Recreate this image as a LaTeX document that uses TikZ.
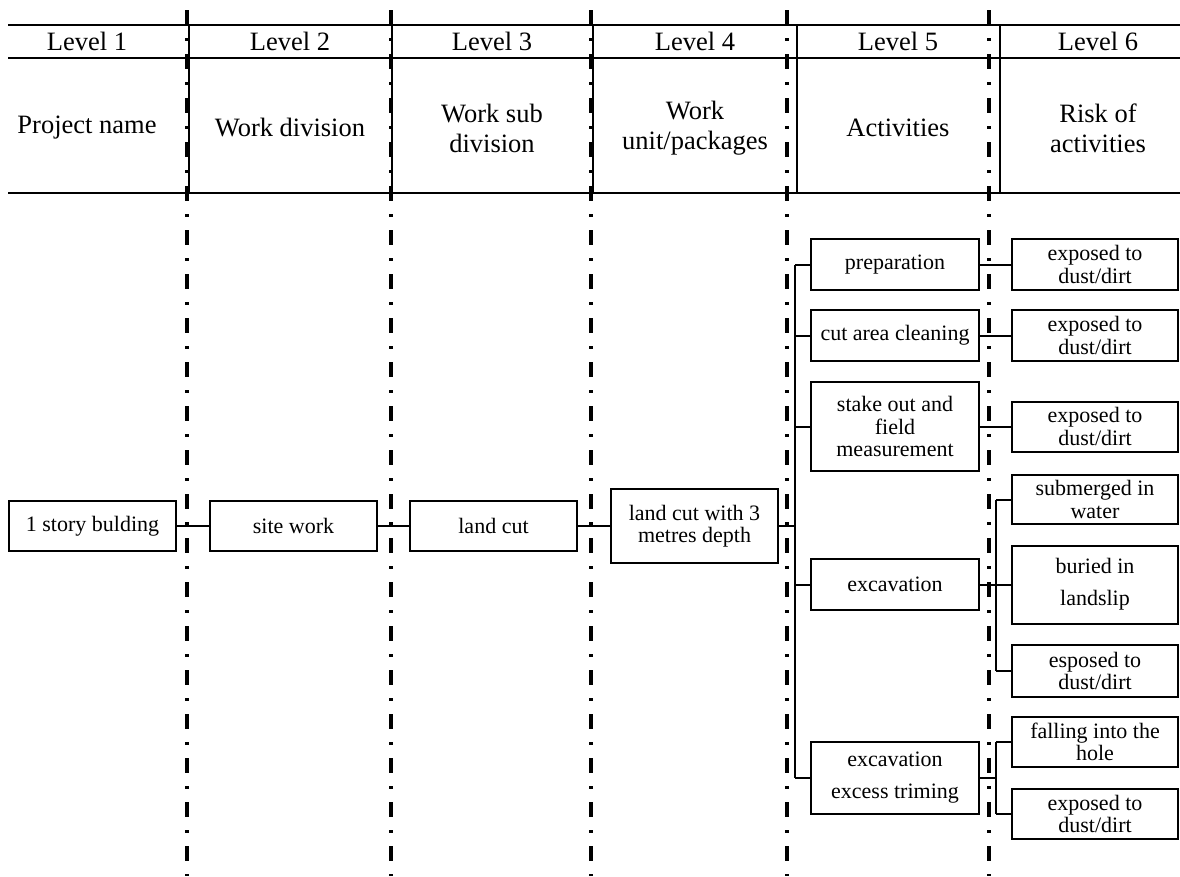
\documentclass[tikz,border=0pt]{standalone}
\usepackage{fontspec}
\setmainfont{Liberation Serif}
\begin{document}
\begin{tikzpicture}[x=1pt,y=-1pt,
  sepline/.style={line width=4pt, dash pattern=on 15pt off 13pt on 3pt off 13pt},
  hline/.style={line width=1.3pt},
  box/.style={draw, line width=2pt, inner sep=0pt, align=center, font=\fontsize{22}{22.5}\selectfont},
  widebox/.style={box, font=\fontsize{22}{32}\selectfont},
  conn/.style={line width=2pt},
  head/.style={font=\fontsize{26.5}{30}\selectfont, align=center, inner sep=0pt}]
\useasboundingbox (0,0) rectangle (1180,876);
% header table
\draw[hline] (8,25) -- (1180,25);
\draw[hline] (8,58) -- (1180,58);
\draw[hline] (8,193) -- (1180,193);
\foreach \x in {189,392,593,797,1000} \draw[hline] (\x,25) -- (\x,193);
\foreach \x in {187,391,591,787,989} \draw[sepline] (\x,10) -- (\x,876);
\node[head] (l1) at (87,41.5) {Level 1};
\node[head] (l2) at (290,41.5) {Level 2};
\node[head] (l3) at (492,41.5) {Level 3};
\node[head] (l4) at (695,41.5) {Level 4};
\node[head] (l5) at (898,41.5) {Level 5};
\node[head] (l6) at (1098,41.5) {Level 6};
\node[head] (h1) at (87,128) {Project name};
\node[head] (h2) at (290,128) {Work division};
\node[head] (h3) at (492,128) {Work sub\\division};
\node[head] (h4) at (695,128) {Work\\unit/packages};
\node[head] (h5) at (898,128) {Activities};
\node[head] (h6) at (1098,128) {Risk of\\activities};
% main row
\node[box, minimum width=167pt, minimum height=50pt] (b1) at (92.5,526) {1 story bulding};
\node[box, minimum width=167pt, minimum height=50pt] (b2) at (293.5,526) {site work};
\node[box, minimum width=167pt, minimum height=50pt] (b3) at (493.5,526) {land cut};
\node[box, minimum width=167pt, minimum height=74pt] (b4) at (694.5,526) {land cut with 3\\metres depth};
% activities
\node[box, minimum width=168pt, minimum height=51pt] (a1) at (895,264.5) {preparation};
\node[box, minimum width=168pt, minimum height=51pt] (a2) at (895,335.5) {cut area cleaning};
\node[box, minimum width=168pt, minimum height=89pt] (a3) at (895,426.5) {stake out and\\field\\measurement};
\node[box, minimum width=168pt, minimum height=51pt] (a4) at (895,584.5) {excavation};
\node[widebox, minimum width=168pt, minimum height=72pt] (a5) at (895,778) {excavation\\excess triming};
% risks
\node[box, minimum width=166pt, minimum height=51pt] (r1) at (1095,264.5) {exposed to\\dust/dirt};
\node[box, minimum width=166pt, minimum height=51pt] (r2) at (1095,335.5) {exposed to\\dust/dirt};
\node[box, minimum width=166pt, minimum height=50pt] (r3) at (1095,426.5) {exposed to\\dust/dirt};
\node[box, minimum width=166pt, minimum height=49pt] (r4) at (1095,499.5) {submerged in\\water};
\node[widebox, minimum width=166pt, minimum height=78pt] (r5) at (1095,584.5) {buried in\\landslip};
\node[box, minimum width=166pt, minimum height=52pt] (r6) at (1095,671) {esposed to\\dust/dirt};
\node[box, minimum width=166pt, minimum height=50pt] (r7) at (1095,742) {falling into the\\hole};
\node[box, minimum width=166pt, minimum height=50pt] (r8) at (1095,814) {exposed to\\dust/dirt};
% connectors
\coordinate (busT) at (795,264.5);
\coordinate (busB) at (795,778);
\coordinate (rb) at (996,0);
\draw[conn] (b1.east) -- (b2.west);
\draw[conn] (b2.east) -- (b3.west);
\draw[conn] (b3.east) -- (b4.west);
\draw[conn] (b4.east) -- (b4.east -| busT);
\draw[conn] (busT) -- (busB);
\draw[conn] (busT) -- (a1.west);
\draw[conn] (a2.west -| busT) -- (a2.west);
\draw[conn] (a3.west -| busT) -- (a3.west);
\draw[conn] (a4.west -| busT) -- (a4.west);
\draw[conn] (busB) -- (a5.west);
\draw[conn] (a1.east) -- (r1.west);
\draw[conn] (a2.east) -- (r2.west);
\draw[conn] (a3.east) -- (r3.west);
\draw[conn] (a4.east) -- (r5.west);
\draw[conn] (r4.west -| rb) -- (r6.west -| rb);
\draw[conn] (r4.west -| rb) -- (r4.west);
\draw[conn] (r6.west -| rb) -- (r6.west);
\draw[conn] (a5.east) -- (a5.east -| rb);
\draw[conn] (r7.west -| rb) -- (r8.west -| rb);
\draw[conn] (r7.west -| rb) -- (r7.west);
\draw[conn] (r8.west -| rb) -- (r8.west);
\end{tikzpicture}
\end{document}
